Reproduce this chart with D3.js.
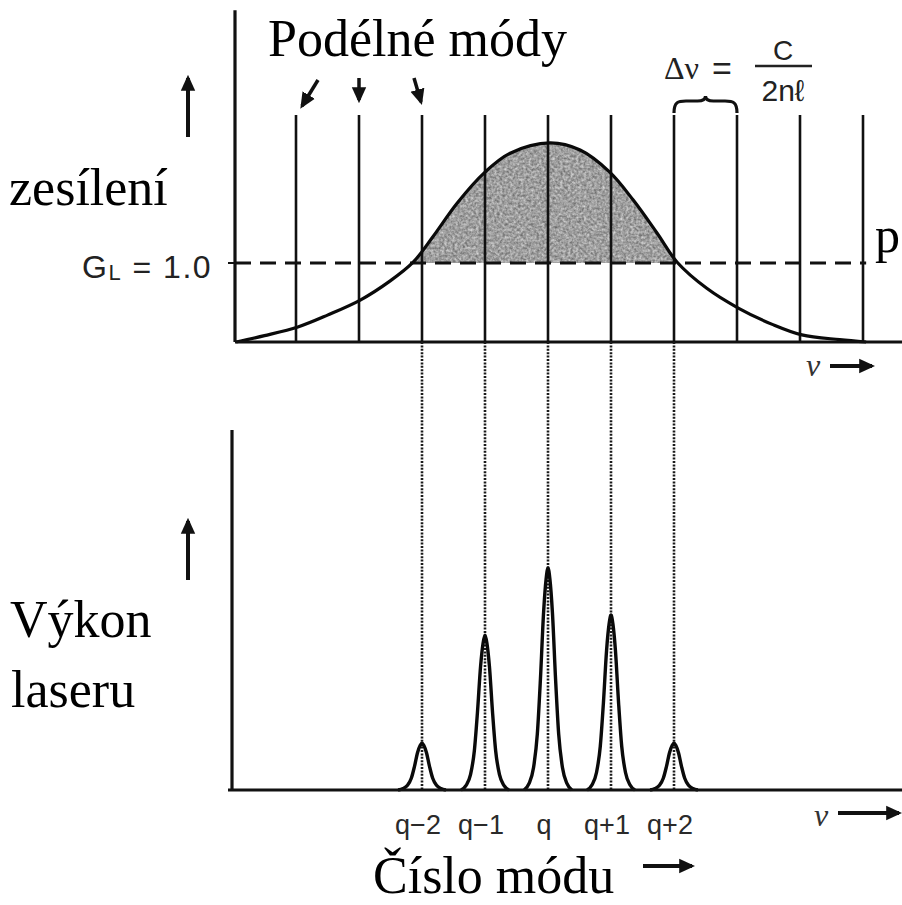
<!DOCTYPE html>
<html>
<head>
<meta charset="utf-8">
<script src="https://cdn.jsdelivr.net/npm/d3@7"></script>
<style>
  html, body { margin: 0; padding: 0; background: #fff; }
  svg { display: block; }
</style>
</head>
<body>
<svg id="chart" width="902" height="905"></svg>
<script>
// Longitudinal cavity modes (in units of the mode spacing, q = 0)
const modeIndex = [-4, -3, -2, -1, 0, 1, 2, 3, 4, 5];

// Gain profile of the medium: frequency (mode units) and gain (threshold G_L = 1)
const gainFreq  = [-4.95, -4.5, -3.97, -3.5, -2.98, -2.51, -2.14, -1.83, -1.44, -1.0, -0.6, 0.03, 0.51, 0.98, 1.35, 1.73, 2.05, 2.52, 3.02, 3.57, 4.03, 4.63, 5.05];
const gainValue = [0.0,   0.08, 0.19,  0.34, 0.53,  0.77,  1.01,  1.33,  1.76,  2.15, 2.39, 2.52, 2.43, 2.15, 1.80, 1.38, 1.01, 0.68, 0.43, 0.22, 0.09, 0.03, 0.0];
const thresholdGain = 1.0;

// Lasing modes (gain above threshold) and their output power
const lasingModes  = [-2, -1, 0, 1, 2];
const lasingLabels = ["q\u22122", "q\u22121", "q", "q+1", "q+2"];
const lasingPower  = [0.13, 0.43, 0.617, 0.486, 0.13];

// Normalised line shape of a single lasing mode
const peakOffset = [-0.38, -0.3, -0.23, -0.17, -0.12, -0.07, -0.03, 0, 0.03, 0.07, 0.12, 0.17, 0.23, 0.3, 0.38];
const peakShape  = [0, 0.03, 0.1, 0.25, 0.5, 0.8, 0.95, 1, 0.95, 0.8, 0.5, 0.25, 0.1, 0.03, 0];

const svg = d3.select("#chart");
const serif = "'Liberation Serif', 'Times New Roman', serif";
const sans = "'Liberation Sans', Arial, sans-serif";

// Scales
const x = d3.scaleLinear().domain([-5, 5]).range([233, 863]);
const yGain = d3.scaleLinear().domain([0, 1]).range([342, 263]);
const yPow = d3.scaleLinear().domain([0, 1]).range([790, 430]);

// Defs: arrow head and grainy fill for the above-threshold gain
const defs = svg.append("defs");
defs.append("marker")
  .attr("id", "head").attr("markerUnits", "userSpaceOnUse")
  .attr("viewBox", "0 0 10 10").attr("refX", 8).attr("refY", 5)
  .attr("markerWidth", 16).attr("markerHeight", 16).attr("orient", "auto")
  .append("path").attr("d", "M0,0.5 L10,5 L0,9.5 Z").attr("fill", "#111");

const grain = defs.append("filter").attr("id", "grain")
  .attr("color-interpolation-filters", "sRGB")
  .attr("x", 0).attr("y", 0).attr("width", 1).attr("height", 1);
grain.append("feTurbulence").attr("type", "fractalNoise")
  .attr("baseFrequency", 0.38).attr("numOctaves", 2).attr("seed", 4).attr("result", "noise");
grain.append("feColorMatrix").attr("in", "noise").attr("type", "saturate").attr("values", 0).attr("result", "grey");
const ct = grain.append("feComponentTransfer").attr("in", "grey").attr("result", "tone");
["feFuncR", "feFuncG", "feFuncB"].forEach(f =>
  ct.append(f).attr("type", "table").attr("tableValues", "0.3 0.5 0.75 0.98"));
ct.append("feFuncA").attr("type", "linear").attr("slope", 0).attr("intercept", 1);
grain.append("feComposite").attr("in", "tone").attr("in2", "SourceGraphic").attr("operator", "in");

defs.append("clipPath").attr("id", "aboveThreshold")
  .append("rect").attr("x", 0).attr("y", 0).attr("width", 902).attr("height", yGain(thresholdGain));

const gainPts = gainFreq.map((f, i) => [f, gainValue[i]]);
const gainCurve = d3.curveCatmullRom.alpha(0.5);

// ---------- Upper panel: gain curve and cavity modes ----------
const upperPanel = svg.append("g");

// Shaded gain above threshold
upperPanel.append("path")
  .datum(gainPts)
  .attr("clip-path", "url(#aboveThreshold)")
  .attr("filter", "url(#grain)")
  .attr("fill", "#999")
  .attr("d", d3.area().curve(gainCurve)
    .x(d => x(d[0])).y0(yGain(0)).y1(d => yGain(d[1])));

// Cavity mode lines
upperPanel.selectAll("line.mode").data(modeIndex).join("line")
  .attr("class", "mode")
  .attr("x1", d => x(d)).attr("x2", d => x(d))
  .attr("y1", 115).attr("y2", yGain(0))
  .attr("stroke", "#111").attr("stroke-width", 2.6);

// Threshold line
upperPanel.append("line")
  .attr("x1", 235).attr("x2", x(5.05))
  .attr("y1", yGain(thresholdGain)).attr("y2", yGain(thresholdGain))
  .attr("stroke", "#111").attr("stroke-width", 3).attr("stroke-dasharray", "16,9");

// Gain curve
upperPanel.append("path")
  .datum(gainPts)
  .attr("fill", "none").attr("stroke", "#0a0a0a").attr("stroke-width", 3.2)
  .attr("d", d3.line().curve(gainCurve).x(d => x(d[0])).y(d => yGain(d[1])));

// Axes
upperPanel.append("line").attr("x1", 235).attr("x2", 235).attr("y1", yGain(4.2)).attr("y2", yGain(0))
  .attr("stroke", "#111").attr("stroke-width", 3.2);
upperPanel.append("line").attr("x1", 235).attr("x2", 902).attr("y1", yGain(0)).attr("y2", yGain(0))
  .attr("stroke", "#111").attr("stroke-width", 3.2);
upperPanel.append("line").attr("x1", 228).attr("x2", 235)
  .attr("y1", yGain(thresholdGain)).attr("y2", yGain(thresholdGain))
  .attr("stroke", "#111").attr("stroke-width", 2);

// ---------- Dotted projections of the lasing modes ----------
svg.selectAll("line.proj").data(lasingModes).join("line")
  .attr("class", "proj")
  .attr("x1", d => x(d)).attr("x2", d => x(d))
  .attr("y1", yGain(0)).attr("y2", yPow(0))
  .attr("stroke", "#1a1a1a").attr("stroke-width", 2.6).attr("stroke-dasharray", "2,1.4");

// ---------- Lower panel: laser output spectrum ----------
const lowerPanel = svg.append("g");
const peakLine = d3.line().curve(d3.curveMonotoneX);
lowerPanel.selectAll("path.peak").data(lasingModes).join("path")
  .attr("class", "peak")
  .attr("fill", "none").attr("stroke", "#0a0a0a").attr("stroke-width", 3.4)
  .attr("stroke-linejoin", "round")
  .attr("d", (m, i) => peakLine(peakOffset.map((o, k) =>
    [x(m + o), yPow(lasingPower[i] * peakShape[k])])));

lowerPanel.append("line").attr("x1", 232).attr("x2", 232).attr("y1", yPow(1)).attr("y2", yPow(0))
  .attr("stroke", "#111").attr("stroke-width", 3.2);
lowerPanel.append("line").attr("x1", 228).attr("x2", 902).attr("y1", yPow(0)).attr("y2", yPow(0))
  .attr("stroke", "#111").attr("stroke-width", 3.2);

lowerPanel.selectAll("text.q").data(lasingModes).join("text")
  .attr("class", "q")
  .attr("x", d => x(d) - 4).attr("y", 834)
  .attr("text-anchor", "middle")
  .attr("font-family", sans).attr("font-size", 27).attr("fill", "#2a2a2a")
  .text((d, i) => lasingLabels[i]);

// ---------- Annotations ----------
const arrow = (x1, y1, x2, y2, w) => svg.append("line")
  .attr("x1", x1).attr("y1", y1).attr("x2", x2).attr("y2", y2)
  .attr("stroke", "#111").attr("stroke-width", w || 3.5).attr("marker-end", "url(#head)");

// Vertical "increasing" arrows beside the axes
arrow(188, 137, 188, 78, 4);
arrow(188, 580, 188, 521, 4);

// Arrows pointing to the longitudinal modes
arrow(318, 80, 302, 106, 3.5);
arrow(x(-3), 78, x(-3), 100, 3.5);
arrow(414, 78, 421, 102, 3.5);

// Frequency arrows
arrow(830, 366, 872, 366, 4);
arrow(838, 813, 899, 813, 4);
arrow(643, 866, 692, 866, 4);

const label = (txt, px, py, size, opts) => {
  const t = svg.append("text").attr("x", px).attr("y", py)
    .attr("font-family", (opts && opts.family) || serif)
    .attr("font-size", size).attr("fill", (opts && opts.fill) || "#000");
  if (opts && opts.italic) t.attr("font-style", "italic");
  if (opts && opts.anchor) t.attr("text-anchor", opts.anchor);
  t.text(txt);
  return t;
};

label("Podélné módy", 268, 56, 52);
label("zesílení", 9, 205, 52);
label("p", 875, 252, 50);
label("Výkon", 10, 637, 52);
label("laseru", 11, 707, 52);
label("Číslo módu", 373, 893, 52);

label("ν", 806, 376, 32, { italic: true, fill: "#333" });
label("ν", 814, 826, 32, { italic: true, fill: "#333" });

// Threshold label G_L = 1.0
const gl = svg.append("text").attr("x", 82).attr("y", 278)
  .attr("font-family", sans).attr("font-size", 32).attr("letter-spacing", 1.5).attr("fill", "#222");
gl.append("tspan").text("G");
gl.append("tspan").attr("font-size", 22).attr("dy", 2).text("L");
gl.append("tspan").attr("dy", -2).text(" = 1.0");

// Mode spacing Δν = c / 2nℓ
label("Δν", 664, 79, 32, { fill: "#222" });
label("=", 712, 80, 34, { family: sans, fill: "#222" });
label("C", 783, 60, 28, { family: sans, anchor: "middle", fill: "#222" });
svg.append("line").attr("x1", 755).attr("x2", 812).attr("y1", 66).attr("y2", 66)
  .attr("stroke", "#222").attr("stroke-width", 2.5);
label("2nℓ", 783, 101, 30, { family: sans, anchor: "middle", fill: "#222" });

// Brace spanning one mode spacing
const bx0 = x(2), bx1 = x(3), bm = (bx0 + bx1) / 2;
svg.append("path")
  .attr("d", `M${bx0},113 C${bx0},102 ${bx0 + 4},101 ${bx0 + 12},101 L${bm - 8},101 C${bm - 3},101 ${bm},99 ${bm},96 C${bm},99 ${bm + 3},101 ${bm + 8},101 L${bx1 - 12},101 C${bx1 - 4},101 ${bx1},102 ${bx1},113`)
  .attr("fill", "none").attr("stroke", "#111").attr("stroke-width", 3.2);
</script>
</body>
</html>
